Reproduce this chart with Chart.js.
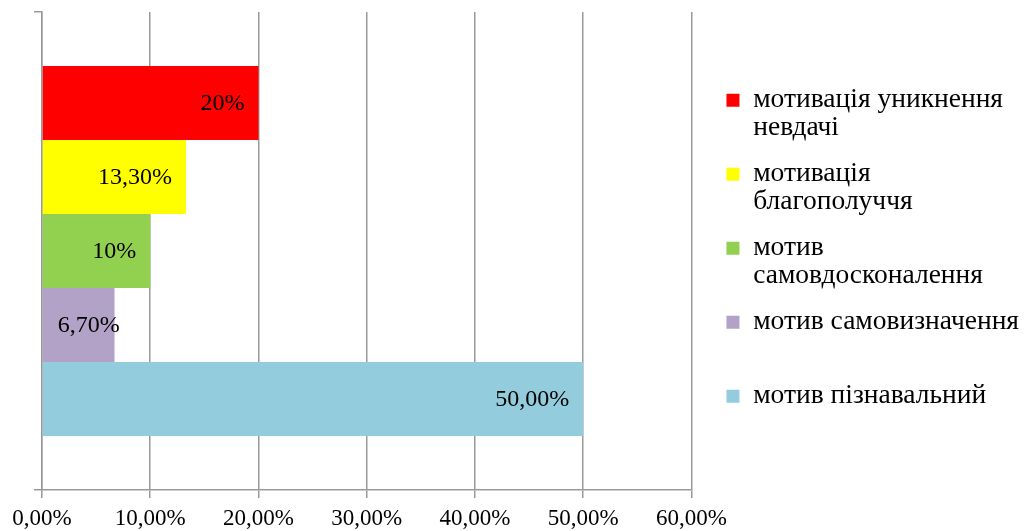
<!DOCTYPE html>
<html>
<head>
<meta charset="utf-8">
<script src="https://cdn.jsdelivr.net/npm/chart.js@4/dist/chart.umd.min.js"></script>
<style>
  html, body { margin: 0; padding: 0; background: #fff; }
  #wrap { width: 1029px; height: 531px; }
</style>
</head>
<body>
<div id="wrap"><canvas id="motivesChart"></canvas></div>
<script>
// Data
const seriesNames = [
  "мотивація уникнення\nневдачі",
  "мотивація\nблагополуччя",
  "мотив\nсамовдосконалення",
  "мотив самовизначення",
  "мотив пізнавальний",
];
const seriesValues = [20, 13.3, 10, 6.7, 50];
const valueLabels = ["20%", "13,30%", "10%", "6,70%", "50,00%"];
const seriesColors = ["#ff0000", "#ffff00", "#92d050", "#b3a2c7", "#93cddd"];
const xTicks = [0, 10, 20, 30, 40, 50, 60];

const FONT = "'Liberation Serif', 'Times New Roman', serif";
const GRID = "#999999";

// labels inside bar ends
const barLabels = {
  id: "barLabels",
  afterDatasetsDraw(chart) {
    const ctx = chart.ctx;
    ctx.save();
    ctx.font = "24px " + FONT;
    ctx.fillStyle = "#000";
    ctx.textAlign = "right";
    ctx.textBaseline = "middle";
    chart.data.datasets.forEach((ds, i) => {
      const bar = chart.getDatasetMeta(i).data[0];
      const w = ctx.measureText(valueLabels[i]).width;
      const x = Math.max(bar.x - 14, bar.base + w + 15);
      ctx.fillText(valueLabels[i], x, bar.y + 1);
    });
    ctx.restore();
  },
};

// empty space between plot and legend
const legendGap = {
  id: "legendGap",
  beforeInit(chart) {
    Chart.layouts.addBox(chart, {
      position: "right",
      weight: 500,
      fullSize: false,
      options: {},
      isHorizontal() { return false; },
      update(maxWidth, maxHeight) { this.width = 17; this.height = maxHeight; },
      draw() {},
    });
  },
};

const ctx1 = document.getElementById("motivesChart").getContext("2d");
new Chart(ctx1, {
  type: "bar",
  data: {
    labels: [""],
    datasets: seriesNames.map((name, i) => {
      const lines = name.split("\n");
      while (lines.length < 2) lines.push("");
      return {
        label: lines,
        data: [seriesValues[i]],
        backgroundColor: seriesColors[i],
        barPercentage: 1,
        categoryPercentage: 0.774,
      };
    }),
  },
  options: {
    indexAxis: "y",
    responsive: true,
    maintainAspectRatio: false,
    animation: false,
    layout: { padding: { top: 12, left: 0, right: 0, bottom: -8 } },
    plugins: {
      legend: {
        position: "right",
        align: "start",
        maxWidth: 321,
        title: { display: true, text: "", padding: { top: 0, bottom: 42 } },
        labels: {
          boxWidth: 13,
          boxHeight: 13,
          padding: 18,
          color: "#000",
          font: { family: FONT, size: 27.5, lineHeight: "28px" },
        },
      },
      tooltip: { enabled: false },
      title: { display: false },
    },
    scales: {
      x: {
        min: 0,
        max: 60,
        afterBuildTicks(scale) {
          scale.ticks = xTicks.map((v) => ({ value: v }));
        },
        grid: { color: GRID, lineWidth: 1.5, tickLength: 8 },
        border: { display: true, color: GRID, width: 1.5 },
        ticks: {
          color: "#000",
          padding: 9,
          maxRotation: 0,
          font: { family: FONT, size: 23, lineHeight: 1 },
          callback: (v) => v.toFixed(2).replace(".", ",") + "%",
        },
      },
      y: {
        afterFit(scale) {
          scale.width = 42;
        },
        grid: { drawOnChartArea: false, color: GRID, lineWidth: 1.5, tickLength: 8 },
        border: { display: true, color: GRID, width: 1.5 },
        ticks: { display: false },
      },
    },
  },
  plugins: [barLabels, legendGap],
});
</script>
</body>
</html>
